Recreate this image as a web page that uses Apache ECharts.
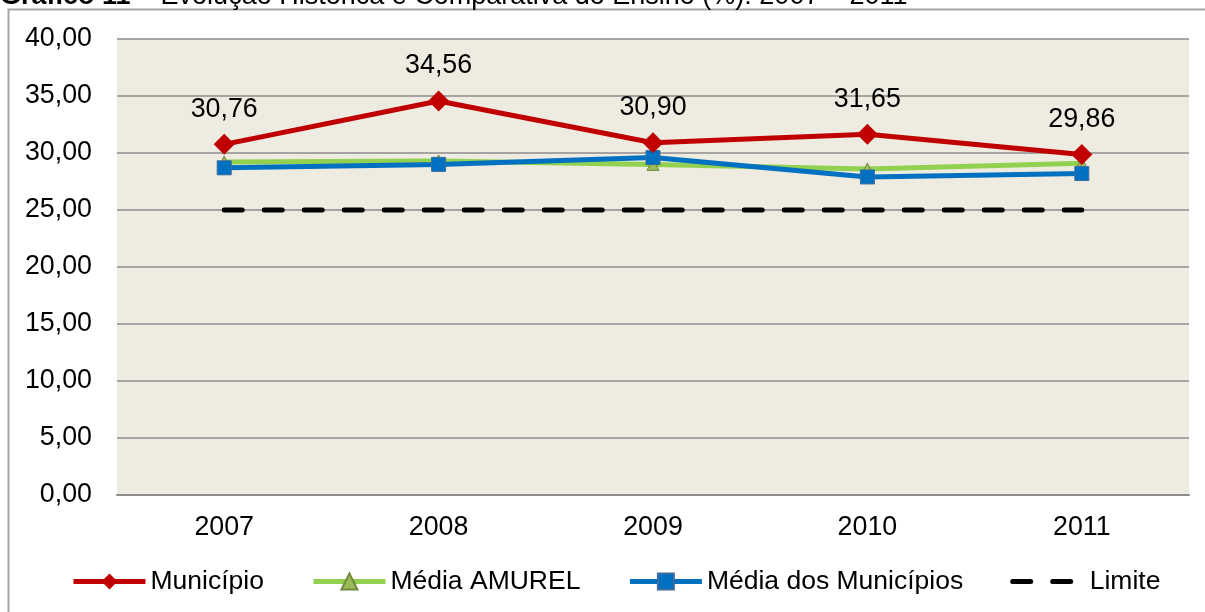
<!DOCTYPE html>
<html>
<head>
<meta charset="utf-8">
<script src="https://cdn.jsdelivr.net/npm/echarts@6/dist/echarts.min.js"></script>
<style>
  html, body { margin: 0; padding: 0; background: #fff; }
  #chart { width: 1205px; height: 612px; }
</style>
</head>
<body>
<div id="chart"></div>
<script>
// dados
var anos = ['2007', '2008', '2009', '2010', '2011'];
var municipio = [30.76, 34.56, 30.90, 31.65, 29.86];
var mediaAmurel = [29.2, 29.3, 29.0, 28.6, 29.1];
var mediaMunicipios = [28.7, 29.0, 29.6, 27.9, 28.2];
var limite = [25, 25, 25, 25, 25];

var fonte = '"Liberation Sans", Arial, sans-serif';
var tam = 26.8;

// formata com virgula decimal
function fmt(v) {
    return v.toFixed(2).replace('.', ',');
}

var chart = echarts.init(document.getElementById('chart'));
var option = {
    backgroundColor: '#fff',
    animation: false,
    textStyle: { fontFamily: fonte },
    graphic: [
        {
            type: 'rect',
            shape: { x: 8.5, y: 9.5, width: 1300, height: 700 },
            style: { fill: 'none', stroke: '#a6a6a6', lineWidth: 2 },
            silent: true
        },
        {
            type: 'text',
            left: 0,
            top: -17,
            style: {
                text: '{b|Gráfico 11}{n| – Evolução Histórica e Comparativa do Ensino (%): 2007 – 2011}',
                fill: '#000',
                rich: {
                    b: { fontWeight: 'bold', fontSize: 27, lineHeight: 32, fontFamily: fonte },
                    n: { fontWeight: 'normal', fontSize: 27, lineHeight: 32, fontFamily: fonte }
                }
            }
        }
    ],
    grid: {
        left: 117, right: 16, top: 39, bottom: 117,
        show: true,
        backgroundColor: '#EEECE1',
        borderWidth: 0
    },
    legend: {
        bottom: 12,
        left: 66,
        itemWidth: 72,
        itemHeight: 20,
        itemGap: 47,
        textStyle: { fontSize: 26.5, color: '#000', fontFamily: fonte },
        lineStyle: { width: 5 },
        data: [
            { name: 'Município' },
            { name: 'Média AMUREL' },
            { name: 'Média dos Municípios' },
            {
                name: 'Limite',
                itemStyle: { opacity: 0 },
                lineStyle: { width: 5, type: [18, 22], cap: 'round', color: '#000' }
            }
        ]
    },
    xAxis: {
        type: 'category',
        data: anos,
        boundaryGap: true,
        axisLine: { show: true, lineStyle: { color: '#8c8c8c', width: 2 } },
        axisTick: { show: false },
        axisLabel: { fontSize: tam, color: '#000', margin: 19, fontFamily: fonte }
    },
    yAxis: {
        type: 'value',
        min: 0,
        max: 40,
        interval: 5,
        axisLine: { show: false },
        axisTick: { show: false },
        splitLine: { lineStyle: { color: '#8c8c8c', width: 1.5 } },
        axisLabel: {
            fontSize: tam, color: '#000', margin: 25, fontFamily: fonte,
            formatter: function (v) { return fmt(v); }
        }
    },
    series: [
        {
            name: 'Município',
            type: 'line',
            data: municipio,
            z: 5,
            symbol: 'diamond',
            symbolSize: 21,
            lineStyle: { color: '#C00000', width: 5 },
            itemStyle: { color: '#C00000' },
            label: {
                show: true,
                position: 'top',
                distance: 11,
                fontSize: tam,
                color: '#000',
                fontFamily: fonte,
                formatter: function (p) { return fmt(p.value); }
            }
        },
        {
            name: 'Média AMUREL',
            type: 'line',
            data: mediaAmurel,
            z: 3,
            symbol: 'triangle',
            symbolSize: 12,
            lineStyle: { color: '#92D050', width: 5 },
            itemStyle: { color: '#9BBB59', borderColor: '#71893F', borderWidth: 1 }
        },
        {
            name: 'Média dos Municípios',
            type: 'line',
            data: mediaMunicipios,
            z: 4,
            symbol: 'rect',
            symbolSize: 14,
            lineStyle: { color: '#0070C0', width: 5 },
            itemStyle: { color: '#0070C0', borderColor: '#3C6CA0', borderWidth: 1 }
        },
        {
            name: 'Limite',
            type: 'line',
            data: limite,
            z: 2,
            symbol: 'none',
            lineStyle: { color: '#000', width: 5, type: [18, 22], cap: 'round' },
            itemStyle: { color: '#000' }
        }
    ]
};
chart.setOption(option);
</script>
</body>
</html>
